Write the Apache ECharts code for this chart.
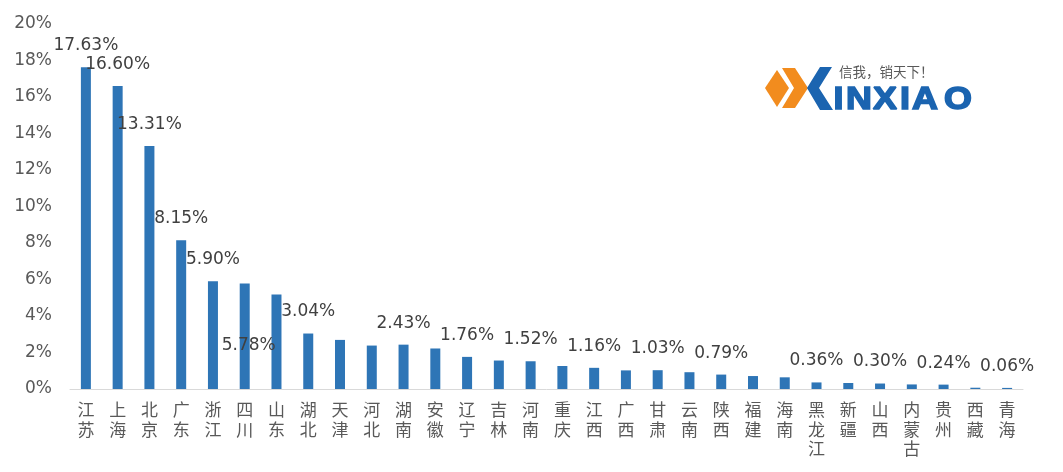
<!DOCTYPE html>
<html>
<head>
<meta charset="utf-8">
<script src="https://cdn.jsdelivr.net/npm/echarts@6/dist/echarts.min.js"></script>
<style>
html,body{margin:0;padding:0;background:#fff;}
#chart{width:1063px;height:472px;}
</style>
</head>
<body>
<div id="chart"></div>
<script>
var categories = ['江苏','上海','北京','广东','浙江','四川','山东','湖北','天津','河北','湖南','安徽','辽宁','吉林','河南','重庆','江西','广西','甘肃','云南','陕西','福建','海南','黑龙江','新疆','山西','内蒙古','贵州','西藏','青海'];
var shares = [17.63,16.60,13.31,8.15,5.90,5.78,5.18,3.04,2.69,2.38,2.43,2.22,1.76,1.56,1.52,1.26,1.16,1.02,1.03,0.92,0.79,0.71,0.64,0.36,0.33,0.30,0.25,0.24,0.07,0.06];
var labelShares = [17.63,16.60,13.31,8.15,5.90,5.78,null,3.04,null,null,2.43,null,1.76,null,1.52,null,1.16,null,1.03,null,0.79,null,null,0.36,null,0.30,null,0.24,null,0.06];
var yTicks = [0,2,4,6,8,10,12,14,16,18,20];
var logoLetters = ['I','N','X','I','A','O'];
var logoTagline = '信我，销天下！';

var FONT = '"DejaVu Sans", "Noto Sans CJK SC", sans-serif';
var chart = echarts.init(document.getElementById('chart'));

var barData = shares.map(function(v, i){
  var item = {value: v};
  if (labelShares[i] === null) {
    item.label = {show: false};
  } else if (categories[i] === '四川') {
    item.label = {show: true, position: 'top', offset: [4, 84]};
  }
  return item;
});

var letterCx = [838.5, 859, 885, 905, 925, 958];
var logoGraphics = [
  {type: 'polygon', shape: {points: [[765,88],[777,70],[789,88],[777,107]]}, style: {fill: '#F28C1E'}},
  {type: 'polygon', shape: {points: [[782,68],[795,68],[808,88],[795,108],[782,108],[794,88]]}, style: {fill: '#F28C1E'}},
  {type: 'polygon', shape: {points: [[820,67],[832,67],[819,88],[833,110],[820,110],[807,88]]}, style: {fill: '#1B64B0'}},
  {type: 'text', left: 839, top: 65, style: {text: logoTagline, fill: '#595959', fontSize: 13.5, fontFamily: '"Noto Sans CJK SC", sans-serif'}}
];
logoLetters.forEach(function(ch, i){
  logoGraphics.push({
    type: 'text', x: letterCx[i], y: 100, scaleX: 1.12,
    style: {text: ch, fill: '#1B64B0', stroke: '#1B64B0', lineWidth: 1.6,
            align: 'center', verticalAlign: 'middle',
            fontSize: 32, fontWeight: 'bold', fontFamily: '"Liberation Sans", Arial, sans-serif'}
  });
});

chart.setOption({
  animation: false,
  grid: {left: 70, right: 40, top: 24, bottom: 83},
  xAxis: {
    type: 'category',
    data: categories,
    axisLine: {lineStyle: {color: '#d9d9d9', width: 1}},
    axisTick: {show: false},
    axisLabel: {
      interval: 0,
      margin: 11,
      color: '#595959',
      fontFamily: '"Noto Sans CJK SC", sans-serif',
      fontSize: 17,
      lineHeight: 19.5,
      formatter: function(v){ return v.split('').join('\n'); }
    }
  },
  yAxis: {
    type: 'value',
    min: yTicks[0],
    max: yTicks[yTicks.length-1],
    interval: 2,
    splitLine: {show: false},
    axisLine: {show: false},
    axisTick: {show: false},
    axisLabel: {
      margin: 18,
      color: '#595959',
      fontFamily: FONT,
      fontSize: 17,
      formatter: '{value}%'
    }
  },
  series: [{
    type: 'bar',
    data: barData,
    barWidth: 10,
    itemStyle: {color: '#2E75B6'},
    label: {
      show: true,
      position: 'top',
      distance: 13,
      color: '#404040',
      fontFamily: FONT,
      fontSize: 17,
      formatter: function(p){
        var v = labelShares[p.dataIndex];
        return v === null ? '' : v.toFixed(2) + '%';
      }
    }
  }],
  graphic: logoGraphics
});
</script>
</body>
</html>
